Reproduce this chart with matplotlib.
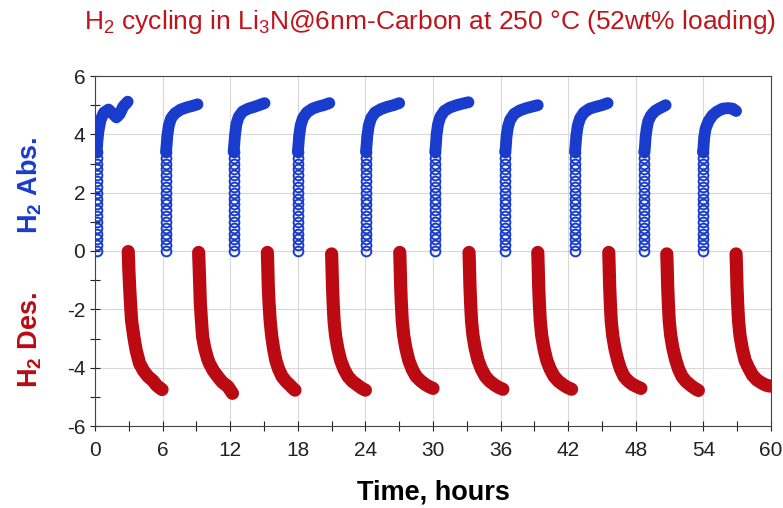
import matplotlib
matplotlib.use("Agg")
import matplotlib.pyplot as plt
from matplotlib.ticker import MultipleLocator

plt.rcParams['font.family'] = ['Liberation Sans', 'DejaVu Sans']
plt.rcParams['mathtext.default'] = 'regular'
plt.rcParams['axes.unicode_minus'] = False

BLUE = '#1a3ccc'
RED = '#bb0a12'

# absorption: start time of each cycle and the stack of points on the near-vertical rise
abs_start = [0.15, 6.3, 12.3, 18.0, 24.05, 30.2, 36.4, 42.6, 48.75, 53.95]
abs_rise = [0.0, 0.2, 0.4, 0.6, 0.8, 1.0, 1.2, 1.4, 1.6, 1.8, 2.0, 2.2, 2.4, 2.6, 2.8, 3.0, 3.2, 3.4]

# absorption curves after the rise (hours, wt%)
abs_t = [
    [0.2, 0.3, 0.5, 0.8, 1.2, 1.6, 1.9, 2.2, 2.5, 2.9],
    [6.35, 6.42, 6.55, 6.75, 7.1, 7.6, 8.2, 8.7, 9.1],
    [12.35, 12.42, 12.55, 12.75, 13.1, 13.6, 14.2, 14.7, 15.05],
    [18.05, 18.12, 18.25, 18.45, 18.8, 19.3, 19.8, 20.3, 20.8],
    [24.1, 24.17, 24.3, 24.5, 24.85, 25.4, 26.0, 26.5, 27.0],
    [30.25, 30.32, 30.45, 30.65, 31.0, 31.5, 32.1, 32.7, 33.15],
    [36.45, 36.52, 36.65, 36.85, 37.2, 37.7, 38.3, 38.8, 39.3],
    [42.65, 42.72, 42.85, 43.05, 43.4, 43.9, 44.5, 45.0, 45.5],
    [48.8, 48.87, 48.97, 49.1, 49.35, 49.7, 50.05, 50.4, 50.65],
    [54.0, 54.07, 54.2, 54.45, 54.8, 55.2, 55.7, 56.2, 56.6, 56.9],
]
abs_y = [
    [3.7, 4.1, 4.5, 4.75, 4.85, 4.7, 4.58, 4.7, 4.95, 5.12],
    [3.6, 3.95, 4.3, 4.55, 4.72, 4.85, 4.93, 4.98, 5.03],
    [3.6, 3.95, 4.35, 4.6, 4.78, 4.88, 4.95, 5.02, 5.07],
    [3.6, 3.95, 4.3, 4.55, 4.75, 4.88, 4.95, 5.0, 5.07],
    [3.6, 3.95, 4.3, 4.55, 4.75, 4.87, 4.95, 5.0, 5.07],
    [3.6, 4.0, 4.35, 4.6, 4.8, 4.92, 5.0, 5.06, 5.1],
    [3.5, 3.9, 4.25, 4.5, 4.7, 4.82, 4.9, 4.95, 5.0],
    [3.6, 3.95, 4.3, 4.55, 4.75, 4.88, 4.95, 5.0, 5.07],
    [3.5, 3.9, 4.2, 4.45, 4.65, 4.8, 4.88, 4.95, 5.0],
    [3.5, 3.9, 4.2, 4.45, 4.65, 4.78, 4.88, 4.9, 4.88, 4.8],
]

# desorption curves (hours, wt%)
des_t = [
    [2.95, 3.0, 3.07, 3.15, 3.25, 3.45, 3.65, 3.95, 4.3, 4.7, 5.15, 5.45, 5.7, 5.95],
    [9.2, 9.25, 9.3, 9.35, 9.45, 9.55, 9.75, 10.0, 10.15, 10.5, 10.9, 11.3, 11.8, 12.2],
    [15.3, 15.34, 15.38, 15.45, 15.55, 15.68, 15.85, 16.05, 16.3, 16.6, 16.95, 17.3, 17.55, 17.75],
    [21.0, 21.04, 21.08, 21.14, 21.22, 21.35, 21.55, 21.8, 22.1, 22.45, 22.85, 23.3, 23.65, 24.0],
    [27.05, 27.09, 27.13, 27.19, 27.27, 27.4, 27.6, 27.85, 28.15, 28.5, 28.9, 29.3, 29.65, 30.0],
    [33.2, 33.24, 33.28, 33.34, 33.42, 33.55, 33.75, 34.0, 34.3, 34.65, 35.05, 35.5, 35.85, 36.2],
    [39.3, 39.34, 39.38, 39.44, 39.52, 39.65, 39.85, 40.1, 40.4, 40.75, 41.15, 41.6, 41.95, 42.3],
    [45.6, 45.64, 45.68, 45.74, 45.82, 45.95, 46.15, 46.4, 46.65, 46.95, 47.3, 47.7, 48.1, 48.45],
    [50.75, 50.79, 50.83, 50.89, 50.97, 51.1, 51.3, 51.55, 51.8, 52.1, 52.45, 52.85, 53.2, 53.55],
    [56.9, 56.94, 56.98, 57.04, 57.12, 57.25, 57.45, 57.7, 58.0, 58.35, 58.75, 59.2, 59.55, 59.9],
]
des_y = [
    [-0.02, -0.6, -1.2, -1.8, -2.4, -2.95, -3.4, -3.85, -4.1, -4.3, -4.45, -4.6, -4.68, -4.75],
    [-0.05, -0.6, -1.2, -1.8, -2.4, -2.94, -3.35, -3.7, -3.85, -4.1, -4.31, -4.5, -4.65, -4.88],
    [-0.05, -0.6, -1.2, -1.8, -2.4, -2.9, -3.35, -3.75, -4.05, -4.3, -4.47, -4.6, -4.7, -4.77],
    [-0.1, -0.6, -1.2, -1.8, -2.4, -2.9, -3.35, -3.75, -4.05, -4.3, -4.47, -4.6, -4.7, -4.77],
    [-0.05, -0.6, -1.2, -1.8, -2.4, -2.9, -3.35, -3.75, -4.05, -4.3, -4.45, -4.57, -4.65, -4.71],
    [-0.05, -0.6, -1.2, -1.8, -2.4, -2.9, -3.35, -3.75, -4.05, -4.3, -4.47, -4.6, -4.68, -4.74],
    [-0.05, -0.6, -1.2, -1.8, -2.4, -2.9, -3.35, -3.75, -4.05, -4.3, -4.47, -4.6, -4.68, -4.74],
    [-0.05, -0.6, -1.2, -1.8, -2.4, -2.9, -3.35, -3.75, -4.05, -4.3, -4.45, -4.57, -4.65, -4.71],
    [-0.1, -0.6, -1.2, -1.8, -2.4, -2.9, -3.35, -3.75, -4.05, -4.3, -4.47, -4.6, -4.7, -4.78],
    [-0.1, -0.6, -1.2, -1.8, -2.4, -2.9, -3.35, -3.75, -4.0, -4.25, -4.42, -4.53, -4.6, -4.63],
]

fig = plt.figure(figsize=(7.83, 5.08), dpi=100)
ax = fig.add_axes([95/783, 82/508, 676/783, 350/508])

mk = dict(marker='o', ms=7, mfc='none', mew=1.4, linestyle='none')
for i in range(len(abs_start)):
    ax.plot([abs_start[i]] * len(abs_rise), abs_rise, color=BLUE, **mk, zorder=3)
    ax.plot([abs_start[i]] + abs_t[i], [abs_rise[-1]] + abs_y[i], color=BLUE, lw=8.5,
            solid_capstyle='round', solid_joinstyle='round', zorder=3)
for i in range(len(des_t)):
    ax.plot(des_t[i], des_y[i], color=RED, lw=9.5,
            solid_capstyle='round', solid_joinstyle='round', zorder=3)

ax.set_xlim(0, 60)
ax.set_ylim(-6, 6)
ax.xaxis.set_major_locator(MultipleLocator(6))
ax.xaxis.set_minor_locator(MultipleLocator(3))
ax.yaxis.set_major_locator(MultipleLocator(2))
ax.yaxis.set_minor_locator(MultipleLocator(1))
ax.grid(True, which='major', color='#d8d8d8', lw=0.8)
ax.set_axisbelow(True)
ax.tick_params(which='both', direction='inout', length=7, width=0.8, labelsize=15, colors='#222222')
ax.tick_params(axis='x', pad=7)
for s in ax.spines.values():
    s.set_linewidth(0.8)
    s.set_color('#444444')

ax.set_xlabel('Time, hours', fontsize=19.5, fontweight='bold', labelpad=14)
fig.text(30/783, 1 - 185/508, 'H$_2$ Abs.', color=BLUE, fontsize=19.5, fontweight='bold',
         rotation=90, ha='center', va='center')
fig.text(30/783, 1 - 340/508, 'H$_2$ Des.', color=RED, fontsize=19.5, fontweight='bold',
         rotation=90, ha='center', va='center')
fig.text(430/783, 1 - 22/508, 'H$_2$ cycling in Li$_3$N@6nm-Carbon at 250 °C (52wt% loading)',
         color='#c0141c', fontsize=19, ha='center', va='center')

fig.savefig('out.png', dpi=100)
